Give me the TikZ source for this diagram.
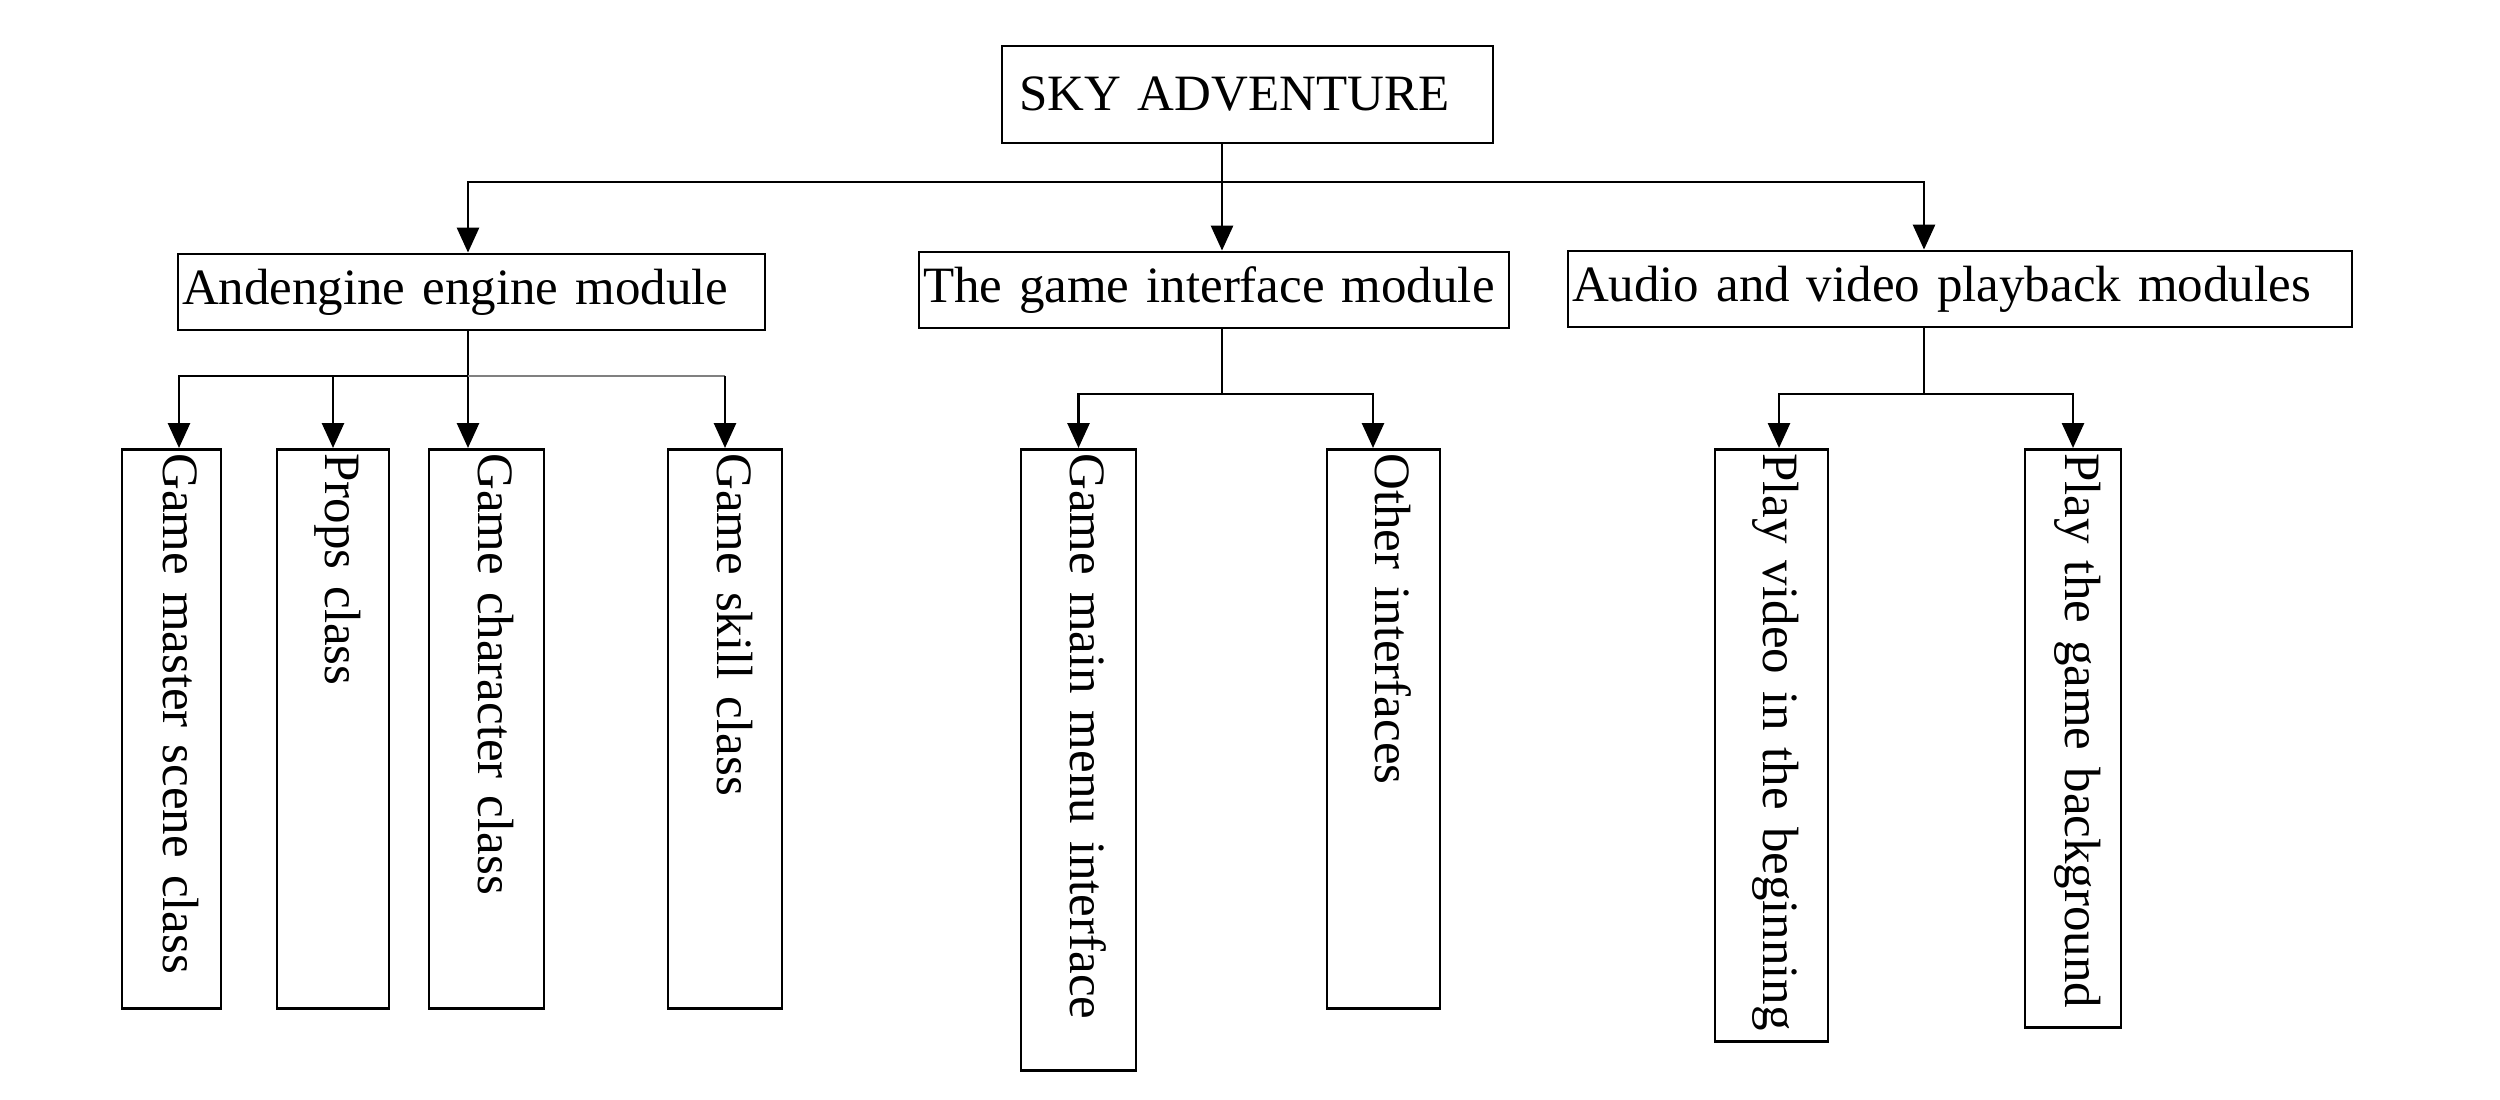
\documentclass[tikz,border=0pt]{standalone}
\usepackage{fontspec}
\setmainfont{Liberation Serif}
\usetikzlibrary{arrows.meta}
\newcommand{\diafont}{\fontsize{14.5}{17}\selectfont}
\tikzset{
  box/.style={draw, line width=0.8pt, font=\diafont, inner ysep=0pt, inner xsep=0.04cm, align=left},
  modbox/.style={box, minimum height=0.76cm},
  classbox/.style={box, rotate=-90, anchor=west, text height=10pt, text depth=5.5pt},
  link/.style={line width=0.8pt},
  arr/.style={link, -{Triangle[length=2.5mm, width=2.2mm]}}
}
\begin{document}
\begin{tikzpicture}[y=-1cm]
\useasboundingbox (0,0) rectangle (25,11);

\node[modbox, text width=4.57cm, inner xsep=0.17cm, minimum height=0.97cm] (root) at (12.475,0.945) {SKY ADVENTURE};
\node[modbox, text width=5.79cm] (engine) at (4.715,2.92) {Andengine engine module};
\node[modbox, text width=5.82cm] (iface) at (12.14,2.90) {The game interface module};
\node[modbox, text width=7.76cm] (media) at (19.60,2.89) {Audio and video playback modules};

\node[classbox, text width=5.51cm, minimum height=0.99cm] (scene) at (1.715,4.48) {Game master scene class};
\node[classbox, text width=5.51cm, minimum height=1.12cm] (props) at (3.33,4.48) {Props class};
\node[classbox, text width=5.51cm, minimum height=1.15cm] (chara) at (4.865,4.48) {Game character class};
\node[classbox, text width=5.51cm, minimum height=1.14cm] (skill) at (7.25,4.48) {Game skill class};
\node[classbox, text width=6.13cm, minimum height=1.15cm] (mainmenu) at (10.785,4.48) {Game main menu interface};
\node[classbox, text width=5.51cm, minimum height=1.13cm] (other) at (13.835,4.48) {Other interfaces};
\node[classbox, text width=5.84cm, minimum height=1.13cm] (intro) at (17.715,4.48) {Play video in the beginning};
\node[classbox, text width=5.70cm, minimum height=0.96cm] (bgm) at (20.73,4.48) {Play the game background};

\coordinate (top) at (12.22,1.82);
\coordinate (jeng) at (4.68,3.76);
\coordinate (jif) at (12.22,3.94);
\coordinate (jmed) at (19.24,3.94);

\draw[link] (root.south -| top) -- (top);
\draw[arr] (top) -| (engine.north -| jeng);
\draw[arr] (top) -- (iface.north -| top);
\draw[arr] (top) -| (media.north -| jmed);

\draw[link] (engine.south -| jeng) -- (jeng);
\draw[arr] (jeng) -| ([xshift=0.75mm]scene.west);
\draw[arr] (jeng) -| (props.west);
\draw[arr] (jeng) -- (chara.west -| jeng);
\draw[link, gray] (jeng) -- (jeng -| skill.west);
\draw[arr] (jeng -| skill.west) -- (skill.west);

\draw[link] (iface.south -| jif) -- (jif);
\draw[arr] (jif) -| (mainmenu.west);
\draw[arr] (jif) -| ([xshift=-1.05mm]other.west);

\draw[link] (media.south -| jmed) -- (jmed);
\draw[arr] (jmed) -| ([xshift=0.75mm]intro.west);
\draw[arr] (jmed) -| (bgm.west);
\end{tikzpicture}
\end{document}
